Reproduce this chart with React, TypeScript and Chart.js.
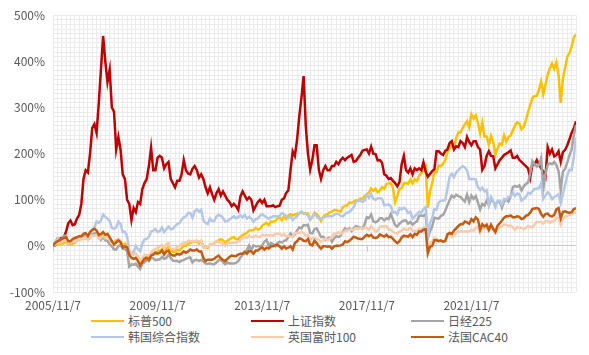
import React, { useEffect, useRef } from "react";
import { Chart, registerables } from "chart.js";

Chart.register(...registerables);

// Monthly points, month 0 = 2005/11/7 ... month 240 = 2025/11/7. Values are cumulative returns in %.
const seriesNames = ["标普500", "上证指数", "日经225", "韩国综合指数", "英国富时100", "法国CAC40"];
const seriesColors = ["#FFC000", "#C00000", "#A5A5A5", "#B4C7E7", "#F8CBAD", "#C55A11"];

const xTickLabels = ["2005/11/7", "2009/11/7", "2013/11/7", "2017/11/7", "2021/11/7"];
const yTickLabels = ["-100%", "0%", "100%", "200%", "300%", "400%", "500%"];

const sp500 = [
  0, 3,
  5, 3.5, 5, 6, 8, 3, 3.5, 5, 6.5, 10.5, 13, 15,
  15, 18, 14.5, 18, 23, 24, 25, 20, 21, 26, 21, 22,
  15, 10, 6, 12, 14, 11, 2, 5, 1.5, -18, -26, -28,
  -26, -30, -43, -33, -26, -23, -27, -18, -16.5, -13, -12.5, -10,
  -7, -13, -7, -2.5, -7.5, -13, -13, -8, -10, -5, 0, 0,
  4, 7, 8, 9, 10.5, 5, 10.5, -2, -4, -5, 3, 3,
  5.5, 10, 12, 14.5, 12, 7, 11, 14, 17.5, 19.5, 14.5, 15,
  19.5, 23.5, 26, 28.5, 33, 34, 34, 39, 35, 37, 44, 47,
  50, 45, 53, 52.5, 54, 59.5, 61.5, 56, 63.5, 58, 66, 68.5,
  65.5, 68, 69.5, 70, 72.5, 70, 70, 70, 57, 62, 72, 68.5,
  63, 54, 63, 67, 68.5, 72.5, 74, 78, 78, 76, 74, 84,
  86, 88, 94, 93, 96, 99, 98.5, 102.5, 102, 108, 112, 115.5,
  124.5, 119, 124, 116, 120, 127, 124, 134, 135.5, 136, 125.5, 95,
  108.5, 123.5, 125, 135.5, 135.5, 135, 144, 135.5, 144, 140.5, 152, 158,
  166, 172.5, 83, 118, 135.5, 161, 160, 174, 172.5, 178, 186, 203,
  211, 219, 214, 234, 246, 246, 256, 263, 270, 257, 285, 276,
  283, 267, 244, 267, 237, 237, 219, 239, 226, 198, 211, 222,
  219, 240, 226, 236, 239, 250, 261, 268, 265, 253, 258, 272,
  290, 305, 321, 325, 325, 338, 356, 329, 350, 371, 385, 395,
  384, 398, 370, 310, 363, 386, 410, 418, 432, 452, 458,
];

const shanghai = [
  0, 1,
  7, 15, 17, 19, 31, 49, 55, 45, 47, 59, 67, 91,
  145, 164, 159, 200, 255, 264, 245, 309, 382, 455, 400, 355,
  382, 300, 291, 209, 236, 209, 155, 145, 100, 91, 56, 82,
  73, 95, 91, 123, 136, 145, 173, 213, 164, 164, 191, 195,
  191, 168, 177, 182, 145, 136, 127, 141, 141, 155, 186, 164,
  157, 155, 167, 173, 164, 148, 155, 145, 127, 114, 127, 112,
  100, 114, 123, 109, 118, 109, 100, 95, 86, 91, 86, 78,
  107, 118, 109, 100, 105, 100, 77, 86, 95, 100, 93, 100,
  86, 86, 86, 88, 84, 86, 87, 100, 103, 115, 120, 164,
  205, 195, 230, 280, 320, 368, 260, 200, 165, 186, 218, 218,
  165, 145, 164, 173, 164, 164, 173, 173, 182, 177, 186, 191,
  186, 191, 194, 197, 182, 184, 191, 197, 206, 208, 209, 200,
  215, 200, 199, 185, 186, 180, 155, 152, 145, 147, 141, 136,
  129, 138, 177, 195, 164, 159, 168, 155, 168, 164, 168, 164,
  181, 161, 150, 156, 162, 166, 205, 205, 200, 197, 206, 209,
  223, 227, 209, 216, 214, 227, 223, 214, 236, 225, 218, 227,
  227, 214, 209, 165, 173, 195, 205, 195, 194, 168, 177, 186,
  191, 197, 200, 203, 207, 191, 191, 195, 186, 182, 177, 173,
  168, 148, 177, 177, 186, 177, 168, 161, 150, 214, 200, 209,
  194, 197, 205, 182, 203, 208, 218, 231, 245, 255, 270,
];

const nikkei = [
  0, 8,
  16, 15, 14, 22, 21, 6, 9, 8, 15, 14, 16, 16,
  21, 24, 21, 24, 24, 27, 28, 21, 13, 19, 12, 11,
  3, -1, -8, -8, -1, 2, -6, -6, -12, -45, -40, -41,
  -39, -45, -50, -38, -36, -30, -33, -26, -27, -31, -30, -29,
  -24, -28, -26, -20, -26, -32, -33, -33, -35, -32, -31, -28,
  -26, -25, -36, -31, -30, -33, -30, -34, -38, -39, -38, -40,
  -40, -36, -31, -31, -35, -40, -36, -38, -38, -38, -37, -33,
  -25, -19, -16, -9, 1, -9, 1, -1, -1, -1, 1, 9,
  13, 1, 6, 4, 0, 6, 9, 7, 11, 12, 20, 27,
  21, 25, 33, 40, 38, 45, 44, 46, 28, 27, 36, 38,
  29, 19, 20, 13, 16, 18, 9, 16, 21, 19, 22, 31,
  38, 34, 38, 32, 38, 43, 41, 40, 37, 47, 62, 60,
  68, 53, 51, 54, 60, 60, 55, 60, 58, 69, 57, 45,
  42, 48, 52, 55, 55, 48, 52, 46, 50, 53, 65, 66,
  65, 69, 17, 32, 42, 61, 60, 59, 65, 67, 76, 88,
  99, 109, 105, 111, 108, 106, 101, 96, 111, 95, 109, 102,
  108, 94, 79, 91, 87, 98, 88, 100, 96, 91, 95, 96,
  83, 96, 101, 96, 107, 127, 130, 128, 131, 120, 129, 134,
  137, 157, 184, 177, 172, 175, 190, 123, 157, 176, 179, 177,
  182, 175, 162, 121, 161, 167, 181, 196, 209, 240, 262,
];

const kospi = [
  0, 7,
  15, 10, 10, 17, 20, 5, 7, 8, 12, 12, 14, 17,
  16, 16, 18, 24, 31, 40, 53, 50, 55, 68, 63, 59,
  54, 39, 37, 40, 53, 47, 30, 31, 20, -10, -18, -13,
  -1, -7, -12, 5, 14, 15, 19, 31, 33, 36, 30, 32,
  40, 30, 36, 42, 36, 37, 43, 47, 49, 57, 62, 64,
  71, 71, 61, 75, 79, 74, 78, 55, 50, 47, 59, 54,
  54, 64, 67, 65, 61, 53, 54, 57, 61, 64, 60, 62,
  66, 62, 67, 59, 63, 59, 52, 58, 59, 65, 69, 65,
  62, 59, 62, 64, 64, 64, 65, 71, 69, 64, 60, 63,
  56, 61, 64, 70, 75, 70, 69, 66, 57, 63, 69, 64,
  59, 58, 61, 64, 64, 64, 64, 67, 70, 69, 65, 64,
  69, 72, 73, 78, 84, 95, 98, 98, 95, 98, 111, 104,
  112, 102, 100, 103, 103, 102, 88, 89, 90, 86, 72, 74,
  68, 82, 79, 83, 79, 71, 74, 59, 64, 69, 74, 72,
  80, 84, 21, 50, 60, 80, 79, 94, 98, 98, 100, 123,
  150, 156, 149, 159, 164, 169, 173, 170, 164, 145, 145, 145,
  144, 127, 121, 126, 118, 121, 89, 106, 97, 84, 98, 98,
  89, 102, 100, 106, 107, 116, 108, 113, 112, 98, 102, 106,
  115, 113, 118, 124, 124, 125, 136, 102, 110, 116, 112, 101,
  106, 108, 112, 93, 112, 132, 153, 165, 164, 193, 235,
];

const ftse = [
  0, 2,
  6, 7, 9, 11, 13, 6, 9, 9, 9, 11, 15, 15,
  15, 19, 13, 19, 22, 22, 24, 15, 17, 22, 17, 20,
  15, 9, 6, 9, 15, 9, 0, 0, -2, -15, -19, -20,
  -17, -22, -33, -26, -19, -19, -22, -15, -9, -7, -4, -2,
  2, -6, 4, 6, -6, -6, -7, -2, 0, 4, 7, 7,
  11, 11, 9, 11, 11, 9, 11, -4, -4, -2, 2, 2,
  4, 9, 9, 6, 4, 0, 6, 7, 7, 7, 7, 9,
  13, 17, 19, 17, 22, 19, 19, 22, 20, 19, 24, 22,
  24, 22, 24, 22, 26, 26, 26, 22, 26, 20, 22, 20,
  19, 28, 28, 28, 30, 28, 22, 24, 13, 17, 17, 15,
  13, 9, 13, 15, 13, 15, 20, 26, 26, 30, 26, 28,
  33, 33, 35, 35, 35, 39, 37, 39, 37, 39, 39, 35,
  43, 37, 31, 33, 41, 43, 41, 43, 35, 35, 31, 28,
  26, 31, 33, 37, 35, 35, 39, 33, 33, 33, 37, 35,
  41, 39, -7, 6, 9, 17, 15, 11, 11, 9, 9, 20,
  28, 20, 22, 28, 31, 31, 31, 31, 31, 31, 35, 33,
  39, 41, 29, 41, 37, 39, 33, 39, 35, 28, 35, 41,
  43, 46, 46, 43, 44, 41, 35, 41, 39, 39, 37, 39,
  43, 41, 41, 46, 52, 52, 52, 48, 54, 54, 50, 54,
  54, 61, 61, 46, 59, 63, 65, 67, 68, 71, 73,
];

const cac40 = [
  0, 6,
  10, 12, 15, 17, 19, 10, 10, 15, 17, 19, 21, 21,
  26, 28, 21, 30, 35, 37, 33, 24, 26, 30, 24, 26,
  19, 10, 3, 8, 12, 8, -3, -1, -3, -19, -26, -28,
  -26, -33, -42, -35, -28, -26, -30, -21, -19, -15, -17, -15,
  -10, -19, -12, -10, -19, -21, -21, -17, -19, -17, -12, -15,
  -12, -8, -10, -10, -8, -12, -12, -26, -33, -30, -30, -30,
  -28, -24, -21, -27, -30, -33, -28, -24, -21, -22, -22, -19,
  -17, -17, -13, -17, -11, -12, -17, -10, -10, -6, -3, -8,
  -4, -6, -1, -1, 1, 2, -1, -6, -1, -6, -4, -1,
  -8, 6, 10, 16, 15, 11, 10, 15, 3, 1, 11, 6,
  -1, -6, -1, -1, -2, -1, -6, -1, 0, 0, 1, 3,
  10, 8, 11, 15, 20, 18, 16, 15, 15, 20, 24, 21,
  24, 18, 17, 19, 25, 22, 20, 24, 19, 20, 15, 10,
  6, 10, 18, 22, 21, 20, 25, 19, 26, 24, 31, 31,
  35, 36, -16, -2, 0, 12, 12, 10, 12, 9, 11, 25,
  28, 26, 33, 38, 43, 47, 47, 53, 51, 48, 58, 53,
  62, 57, 35, 47, 42, 46, 35, 46, 37, 30, 44, 49,
  55, 61, 64, 64, 66, 62, 62, 64, 63, 58, 60, 65,
  67, 72, 80, 81, 82, 80, 69, 63, 69, 70, 65, 64,
  67, 79, 82, 60, 74, 75, 73, 72, 73, 80, 82,
];

const seriesValues = [sp500, shanghai, nikkei, kospi, ftse, cac40];

const FONT = '"Microsoft YaHei", "Noto Sans CJK SC", "Noto Sans", sans-serif';
const TEXT = "#595959";
const GRID = "#ebebeb";
const AXIS = "#c8c8c8";
const MONTHS_PER_LABEL = 48;

const axisTickPlugin = {
  id: "axisTicks",
  beforeDatasetsDraw(chart: any) {
    const xs = chart.scales.x;
    const ys = chart.scales.y;
    const y0 = Math.round(ys.getPixelForValue(0)) + 0.5;
    const ctx = chart.ctx;
    ctx.save();
    ctx.strokeStyle = AXIS;
    ctx.lineWidth = 1;
    ctx.beginPath();
    for (let i = 0; i < xTickLabels.length; i++) {
      const x = Math.round(xs.getPixelForValue(i * MONTHS_PER_LABEL)) + 0.5;
      ctx.moveTo(x, y0);
      ctx.lineTo(x, y0 + 5);
    }
    ctx.stroke();
    ctx.restore();
  },
};

export default function App() {
  const ref = useRef<HTMLCanvasElement | null>(null);

  useEffect(() => {
    if (!ref.current) return;
    const n = seriesValues.length;
    const chart = new Chart(ref.current, {
      type: "line",
      data: {
        datasets: seriesValues.map((vals, i) => ({
          label: seriesNames[i],
          data: vals.map((v, m) => ({ x: m, y: v })),
          borderColor: seriesColors[i],
          backgroundColor: seriesColors[i],
          borderWidth: 2.5,
          pointRadius: 0,
          tension: 0,
          fill: false,
          order: n - 1 - i,
        })),
      },
      options: {
        responsive: false,
        animation: false,
        events: [],
        layout: { padding: { top: 15, right: 13, left: 0, bottom: 0 } },
        plugins: { legend: { display: false }, tooltip: { enabled: false } },
        scales: {
          x: {
            type: "linear",
            min: 0,
            max: 240,
            border: { display: false },
            grid: { color: GRID, lineWidth: 1, drawTicks: false },
            ticks: {
              stepSize: 2,
              autoSkip: false,
              maxRotation: 0,
              padding: 6,
              color: TEXT,
              font: { family: FONT, size: 12 },
              callback: (v: any) => {
                const m = Number(v);
                if (m % MONTHS_PER_LABEL !== 0) return "";
                return xTickLabels[m / MONTHS_PER_LABEL] ?? "";
              },
            },
            afterFit: (s: any) => {
              s.height = 20;
            },
          },
          y: {
            type: "linear",
            min: -100,
            max: 500,
            border: { display: false },
            grid: {
              color: (c: any) => (c.tick && c.tick.value === 0 ? AXIS : GRID),
              lineWidth: 1,
              drawTicks: false,
            },
            ticks: {
              stepSize: 10,
              autoSkip: false,
              padding: 8,
              color: TEXT,
              font: { family: FONT, size: 12 },
              callback: (v: any) => {
                const val = Number(v);
                if (val % 100 !== 0) return "";
                return yTickLabels[(val + 100) / 100] ?? "";
              },
            },
            afterFit: (s: any) => {
              s.width = 53;
            },
          },
        },
      },
      plugins: [axisTickPlugin],
    });
    return () => chart.destroy();
  }, []);

  return (
    <div style={{ position: "absolute", left: 0, top: 0, width: 589, height: 355, background: "#fff" }}>
      <canvas ref={ref} width={589} height={312} style={{ display: "block" }} />
      <div
        style={{
          position: "absolute",
          left: 91,
          top: 313,
          display: "grid",
          gridTemplateColumns: "160px 160px 160px",
          gridAutoRows: "16px",
          fontFamily: FONT,
          fontSize: 12,
          color: TEXT,
        }}
      >
        {seriesNames.map((name, i) => (
          <div key={name} style={{ display: "flex", alignItems: "center", whiteSpace: "nowrap" }}>
            <span style={{ display: "inline-block", width: 33, height: 2, background: seriesColors[i], marginRight: 4 }} />
            <span style={{ lineHeight: "16px" }}>{name}</span>
          </div>
        ))}
      </div>
    </div>
  );
}
